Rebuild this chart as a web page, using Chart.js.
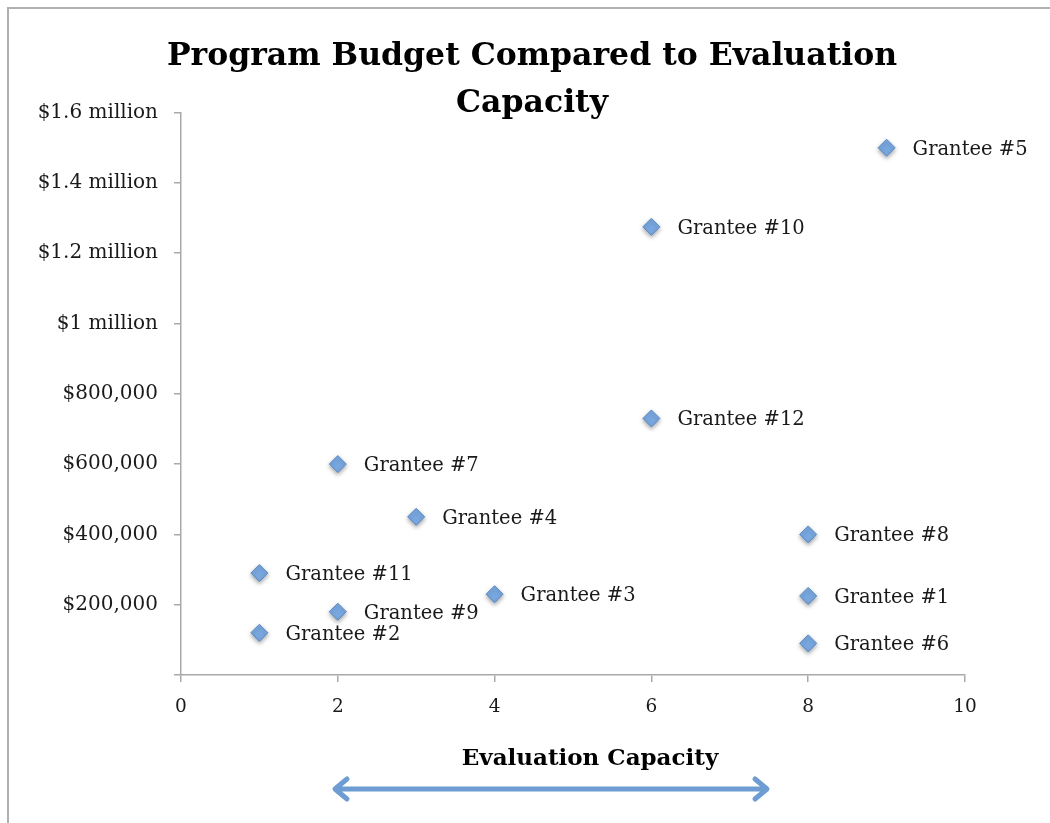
<!DOCTYPE html>
<html>
<head>
<meta charset="utf-8">
<script src="https://cdn.jsdelivr.net/npm/chart.js@4"></script>
<style>
  html, body { margin: 0; padding: 0; background: #ffffff; }
  #wrap { position: relative; width: 1050px; height: 823px; }
</style>
</head>
<body>
<div id="wrap"><canvas id="c" width="1050" height="823"></canvas></div>
<script>
// ---- data ----
const granteeNames = ['Grantee #1','Grantee #2','Grantee #3','Grantee #4','Grantee #5','Grantee #6',
                      'Grantee #7','Grantee #8','Grantee #9','Grantee #10','Grantee #11','Grantee #12'];
const evaluationCapacity = [8, 1, 4, 3, 9, 8, 2, 8, 2, 6, 1, 6];
const programBudget = [225000, 120000, 230000, 450000, 1500000, 90000, 600000, 400000, 180000, 1275000, 290000, 730000];
const yTickValues = [0, 200000, 400000, 600000, 800000, 1000000, 1200000, 1400000, 1600000];
const yTickLabels = ['', '$200,000', '$400,000', '$600,000', '$800,000', '$1 million', '$1.2 million', '$1.4 million', '$1.6 million'];
const xTickValues = [0, 2, 4, 6, 8, 10];
const xTickLabels = ['0', '2', '4', '6', '8', '10'];
const chartTitle = ['Program Budget Compared to Evaluation', 'Capacity'];
const xAxisTitle = 'Evaluation Capacity';

const points = evaluationCapacity.map((x, i) => ({ x: x, y: programBudget[i] }));

const AXIS_COLOR = '#a9a9a9';
const SERIF = "'DejaVu Serif', 'Liberation Serif', serif";

// frame (top + left border only, as in the reference)
const framePlugin = {
  id: 'frame',
  beforeDraw(chart) {
    const ctx = chart.ctx;
    ctx.save();
    ctx.fillStyle = '#ffffff';
    ctx.fillRect(0, 0, chart.width, chart.height);
    ctx.strokeStyle = '#b0b0b0';
    ctx.lineWidth = 2;
    ctx.beginPath();
    ctx.moveTo(8, chart.height + 5);
    ctx.lineTo(8, 8);
    ctx.lineTo(chart.width + 5, 8);
    ctx.stroke();
    ctx.restore();
  }
};

// soft shadow for markers
const shadowPlugin = {
  id: 'markerShadow',
  beforeDatasetsDraw(chart) {
    const ctx = chart.ctx;
    ctx.save();
    ctx.shadowColor = 'rgba(0,0,0,0.35)';
    ctx.shadowBlur = 4;
    ctx.shadowOffsetX = 0;
    ctx.shadowOffsetY = 2;
  },
  afterDatasetsDraw(chart) {
    chart.ctx.restore();
  }
};

// point labels, x-axis title and double arrow
const annotatePlugin = {
  id: 'annotate',
  afterDraw(chart) {
    const ctx = chart.ctx;
    const meta = chart.getDatasetMeta(0);
    ctx.save();
    ctx.fillStyle = '#1a1a1a';
    ctx.font = '19.5px ' + SERIF;
    ctx.textAlign = 'left';
    ctx.textBaseline = 'middle';
    meta.data.forEach((pt, i) => {
      ctx.fillText(granteeNames[i], pt.x + 26, pt.y + 2);
    });

    // x axis title
    ctx.font = 'bold 23px ' + SERIF;
    ctx.textAlign = 'center';
    ctx.fillStyle = '#000000';
    ctx.fillText(xAxisTitle, 590, 759);

    // double-headed arrow
    const x0 = 335, x1 = 767, y = 789;
    ctx.strokeStyle = '#6d9dd2';
    ctx.lineWidth = 5;
    ctx.lineCap = 'round';
    ctx.lineJoin = 'round';
    ctx.beginPath();
    ctx.moveTo(x0 + 2, y);
    ctx.lineTo(x1 - 2, y);
    ctx.moveTo(x0 + 12, y - 10);
    ctx.lineTo(x0, y);
    ctx.lineTo(x0 + 12, y + 10);
    ctx.moveTo(x1 - 12, y - 10);
    ctx.lineTo(x1, y);
    ctx.lineTo(x1 - 12, y + 10);
    ctx.stroke();
    ctx.restore();
  }
};

new Chart(document.getElementById('c'), {
  type: 'scatter',
  data: {
    datasets: [{
      label: 'Grantees',
      data: points,
      pointStyle: 'rectRot',
      pointRadius: 8.5,
      pointHoverRadius: 8.5,
      backgroundColor: '#79a8e0',
      borderColor: '#5a8bc9',
      borderWidth: 1
    }]
  },
  options: {
    responsive: false,
    animation: false,
    events: [],
    layout: { padding: { left: 14, right: 0, top: 0, bottom: 0 } },
    plugins: {
      legend: { display: false },
      tooltip: { enabled: false },
      title: {
        display: true,
        text: chartTitle,
        color: '#000000',
        font: { family: SERIF, size: 31.5, weight: 'bold', lineHeight: 1.47 },
        padding: { top: 34, bottom: -14 }
      }
    },
    scales: {
      x: {
        type: 'linear',
        min: 0, max: 10,
        afterFit(scale) { scale.height = 148; },
        afterBuildTicks(scale) { scale.ticks = xTickValues.map(v => ({ value: v })); },
        ticks: {
          color: '#1a1a1a',
          font: { family: SERIF, size: 18.5 },
          padding: 14,
          callback: (v) => {
            const i = xTickValues.indexOf(v);
            return i >= 0 ? xTickLabels[i] : '';
          }
        },
        grid: { drawOnChartArea: false, drawTicks: true, tickLength: 7, color: AXIS_COLOR, lineWidth: 1.5 },
        border: { display: true, color: AXIS_COLOR, width: 1.5 }
      },
      y: {
        type: 'linear',
        min: 0, max: 1600000,
        afterFit(scale) { scale.width = 167; },
        afterBuildTicks(scale) { scale.ticks = yTickValues.map(v => ({ value: v })); },
        ticks: {
          color: '#1a1a1a',
          font: { family: SERIF, size: 20 },
          padding: 16,
          callback: (v) => {
            const i = yTickValues.indexOf(v);
            return i >= 0 ? yTickLabels[i] : '';
          }
        },
        grid: { drawOnChartArea: false, drawTicks: true, tickLength: 7, color: AXIS_COLOR, lineWidth: 1.5 },
        border: { display: true, color: AXIS_COLOR, width: 1.5 }
      },
      spacer: {
        type: 'linear',
        position: 'right',
        display: true,
        afterFit(scale) { scale.width = 85; },
        ticks: { display: false },
        grid: { display: false, drawTicks: false },
        border: { display: false }
      }
    }
  },
  plugins: [framePlugin, shadowPlugin, annotatePlugin]
});
</script>
</body>
</html>
